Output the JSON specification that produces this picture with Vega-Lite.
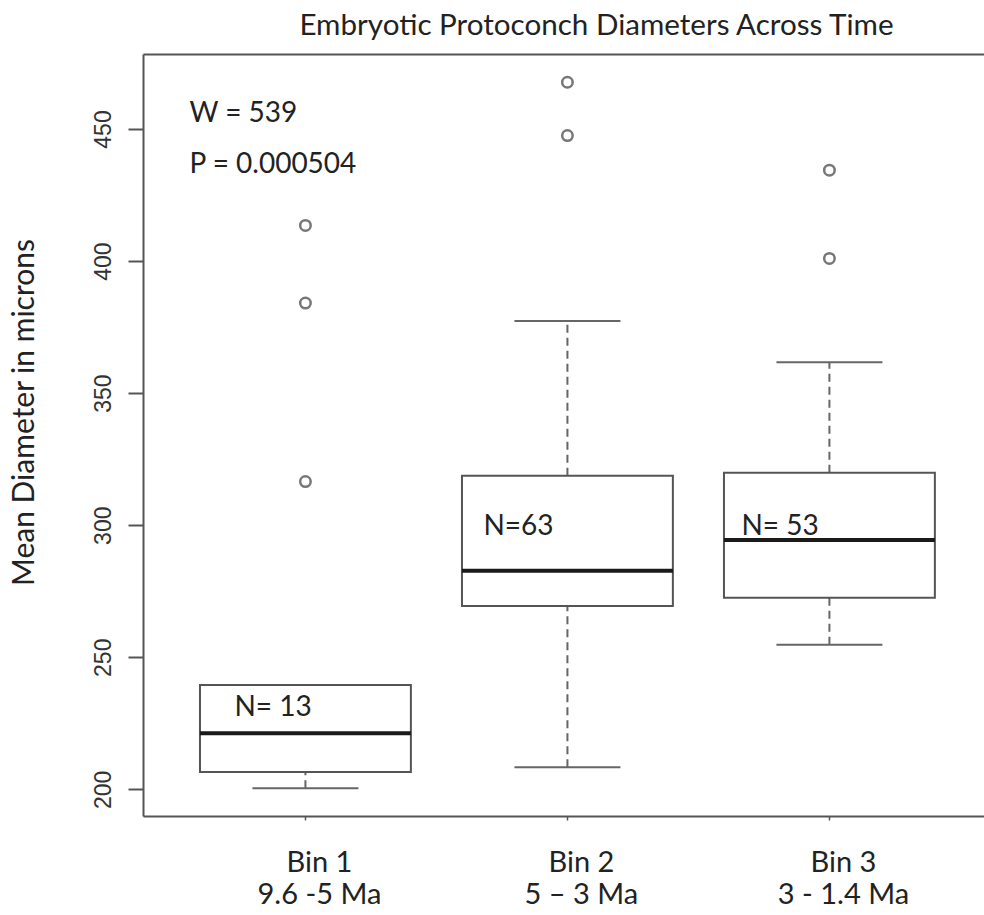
{
  "$schema": "https://vega.github.io/schema/vega-lite/v6.json",
  "autosize": "none",
  "width": 841,
  "height": 762,
  "padding": {"left": 143, "top": 54, "right": 0, "bottom": 99},
  "background": "white",
  "title": {
    "text": "Embryotic Protoconch Diameters Across Time",
    "font": "Lato",
    "fontSize": 29.6,
    "fontWeight": "normal",
    "color": "#222",
    "anchor": "middle",
    "dx": 33,
    "baseline": "bottom",
    "offset": -17
  },
  "config": {
    "view": {"stroke": null},
    "axis": {"grid": false}
  },
  "datasets": {
    "boxes": [
      {"bin": "Bin 1", "lo": 200.4, "q1": 206.6, "median": 221.2, "q3": 239.5, "hi": 239.5},
      {"bin": "Bin 2", "lo": 208.4, "q1": 269.4, "median": 282.8, "q3": 318.7, "hi": 377.3},
      {"bin": "Bin 3", "lo": 254.7, "q1": 272.5, "median": 294.4, "q3": 319.9, "hi": 361.7}
    ],
    "outliers": [
      {"bin": "Bin 1", "value": 316.5},
      {"bin": "Bin 1", "value": 384.1},
      {"bin": "Bin 1", "value": 413.5},
      {"bin": "Bin 2", "value": 447.5},
      {"bin": "Bin 2", "value": 467.7},
      {"bin": "Bin 3", "value": 401.0},
      {"bin": "Bin 3", "value": 434.4}
    ],
    "notes": [
      {"bin": "Bin 1", "value": 455.8, "label": "W = 539", "group": "stat"},
      {"bin": "Bin 1", "value": 436.5, "label": "P = 0.000504", "group": "stat"},
      {"bin": "Bin 1", "value": 230.9, "label": "N= 13", "group": "n1"},
      {"bin": "Bin 2", "value": 299.4, "label": "N=63", "group": "n2"},
      {"bin": "Bin 3", "value": 299.4, "label": "N= 53", "group": "n3"}
    ]
  },
  "resolve": {"axis": {"x": "independent"}},
  "layer": [
    {
      "data": {"name": "boxes"},
      "mark": {"type": "rule", "stroke": "#666", "strokeWidth": 2, "strokeDash": [8, 5]},
      "encoding": {
        "x": {
          "field": "bin", "type": "nominal",
          "scale": {"type": "band", "paddingInner": 0.195, "paddingOuter": 0.2025, "align": 0.537},
          "axis": {
            "orient": "bottom",
            "title": null,
            "domain": true, "domainColor": "#555", "domainWidth": 2,
            "ticks": true, "tickSize": 4, "tickColor": "#555", "tickWidth": 1.5,
            "labelAngle": 0,
            "labelFont": "Lato", "labelFontSize": 29, "labelColor": "#222",
            "labelPadding": 28, "labelBaseline": "top", "labelLineHeight": 32,
            "labelOffset": 14,
            "labelExpr": "datum.label == 'Bin 1' ? ['Bin 1', '9.6 -5 Ma'] : datum.label == 'Bin 2' ? ['Bin 2', '5 \u2013 3 Ma'] : ['Bin 3', '3 - 1.4 Ma']"
          }
        },
        "y": {
          "field": "q3", "type": "quantitative",
          "scale": {"domain": [189.9, 478.4], "nice": false, "zero": false},
          "axis": {
            "title": "Mean Diameter in microns",
            "titleFont": "Lato", "titleFontSize": 30, "titleFontWeight": "normal", "titleColor": "#222",
            "titleAngle": -90, "titleAlign": "center", "titleBaseline": "middle",
            "titleX": -119, "titleY": 358,
            "values": [200, 250, 300, 350, 400, 450],
            "domain": true, "domainColor": "#555", "domainWidth": 2,
            "tickSize": 15, "tickColor": "#555", "tickWidth": 2,
            "labelFont": "Liberation Sans", "labelFontSize": 23, "labelColor": "#333",
            "labelAngle": -90, "labelAlign": "center", "labelBaseline": "alphabetic",
            "labelPadding": 18
          }
        },
        "y2": {"field": "hi"}
      }
    },
    {
      "data": {"name": "boxes"},
      "mark": {"type": "rule", "stroke": "#666", "strokeWidth": 2, "strokeDash": [8, 5]},
      "encoding": {
        "x": {"field": "bin", "type": "nominal", "axis": {"orient": "top", "title": null, "labels": false, "ticks": false, "domain": true, "domainColor": "#555", "domainWidth": 2}},
        "y": {"field": "lo", "type": "quantitative"},
        "y2": {"field": "q1"}
      }
    },
    {
      "data": {"name": "boxes"},
      "mark": {"type": "tick", "color": "#666", "size": 106, "thickness": 2, "opacity": 1},
      "encoding": {
        "x": {"field": "bin", "type": "nominal", "axis": null},
        "y": {"field": "lo", "type": "quantitative"}
      }
    },
    {
      "data": {"name": "boxes"},
      "mark": {"type": "tick", "color": "#666", "size": 106, "thickness": 2, "opacity": 1},
      "encoding": {
        "x": {"field": "bin", "type": "nominal", "axis": null},
        "y": {"field": "hi", "type": "quantitative"}
      }
    },
    {
      "data": {"name": "boxes"},
      "mark": {"type": "bar", "fill": "white", "stroke": "#555", "strokeWidth": 2, "opacity": 1},
      "encoding": {
        "x": {"field": "bin", "type": "nominal", "axis": null},
        "y": {"field": "q1", "type": "quantitative"},
        "y2": {"field": "q3"}
      }
    },
    {
      "data": {"name": "boxes"},
      "mark": {"type": "tick", "color": "#1a1a1a", "size": 211, "thickness": 4, "opacity": 1},
      "encoding": {
        "x": {"field": "bin", "type": "nominal", "axis": null},
        "y": {"field": "median", "type": "quantitative"}
      }
    },
    {
      "data": {"name": "outliers"},
      "mark": {"type": "point", "shape": "circle", "filled": false, "stroke": "#777", "strokeWidth": 2.5, "size": 110, "opacity": 1},
      "encoding": {
        "x": {"field": "bin", "type": "nominal", "axis": null},
        "y": {"field": "value", "type": "quantitative"}
      }
    },
    {
      "data": {"name": "notes"},
      "transform": [{"filter": "datum.group == 'stat'"}],
      "mark": {"type": "text", "font": "Lato", "fontSize": 28, "color": "#222", "align": "left", "baseline": "middle", "dx": -116},
      "encoding": {
        "x": {"field": "bin", "type": "nominal", "axis": null},
        "y": {"field": "value", "type": "quantitative"},
        "text": {"field": "label"}
      }
    },
    {
      "data": {"name": "notes"},
      "transform": [{"filter": "datum.group == 'n1'"}],
      "mark": {"type": "text", "font": "Lato", "fontSize": 28, "color": "#222", "align": "left", "baseline": "middle", "dx": -71},
      "encoding": {
        "x": {"field": "bin", "type": "nominal", "axis": null},
        "y": {"field": "value", "type": "quantitative"},
        "text": {"field": "label"}
      }
    },
    {
      "data": {"name": "notes"},
      "transform": [{"filter": "datum.group == 'n2'"}],
      "mark": {"type": "text", "font": "Lato", "fontSize": 28, "color": "#222", "align": "left", "baseline": "middle", "dx": -84},
      "encoding": {
        "x": {"field": "bin", "type": "nominal", "axis": null},
        "y": {"field": "value", "type": "quantitative"},
        "text": {"field": "label"}
      }
    },
    {
      "data": {"name": "notes"},
      "transform": [{"filter": "datum.group == 'n3'"}],
      "mark": {"type": "text", "font": "Lato", "fontSize": 28, "color": "#222", "align": "left", "baseline": "middle", "dx": -88},
      "encoding": {
        "x": {"field": "bin", "type": "nominal", "axis": null},
        "y": {"field": "value", "type": "quantitative"},
        "text": {"field": "label"}
      }
    }
  ]
}
